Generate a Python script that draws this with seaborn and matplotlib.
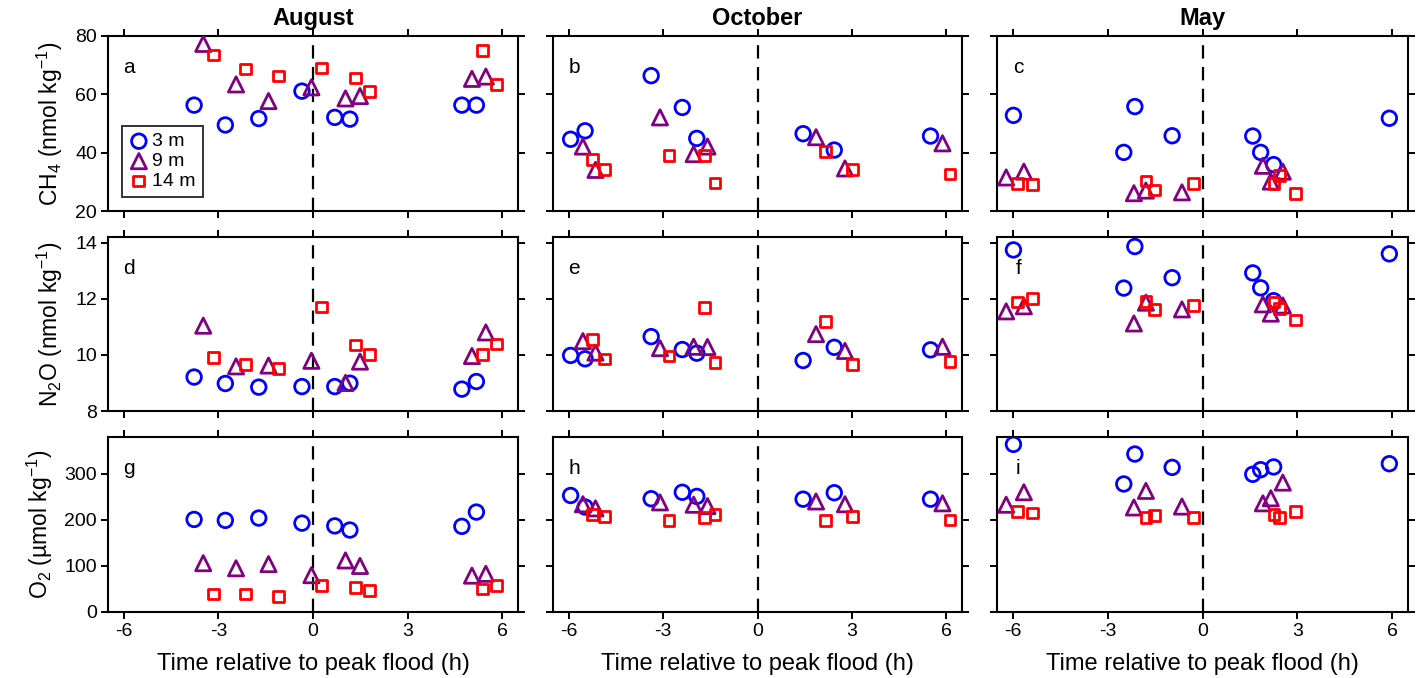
import numpy as np
import pandas as pd
import matplotlib
matplotlib.use("Agg")
import matplotlib.pyplot as plt
import seaborn as sns

# ============================================================
# DATA
# ============================================================

months = ["August", "October", "May"]
depths = ["3 m", "9 m", "14 m"]

# sampling times relative to peak flood (h), per month and depth
time_aug_3 = [-3.77, -2.78, -1.72, -0.35, 0.69, 1.17, 4.72, 5.18]
time_aug_9 = [-3.48, -2.44, -1.41, -0.05, 1.03, 1.49, 5.04, 5.48]
time_aug_14 = [-3.16, -2.13, -1.10, 0.28, 1.35, 1.80, 5.37, 5.82]

time_oct_3 = [-5.94, -5.48, -3.38, -2.39, -1.93, 1.45, 2.44, 5.50]
time_oct_9 = [-5.55, -5.15, -3.10, -2.03, -1.59, 1.86, 2.78, 5.88]
time_oct_14 = [-5.24, -4.87, -2.81, -1.69, -1.35, 2.15, 3.03, 6.12]

time_may_3 = [-5.98, -2.49, -2.14, -0.96, 1.59, 1.84, 2.25, 5.91]
time_may_9 = [-6.21, -5.65, -2.17, -1.79, -0.65, 1.91, 2.16, 2.54]
time_may_14 = [-5.85, -5.38, -1.79, -1.53, -0.28, 2.26, 2.43, 2.93]

# CH4 (nmol kg-1)
ch4_aug_3 = [56.3, 49.5, 51.7, 61.1, 52.1, 51.5, 56.3, 56.3]
ch4_aug_9 = [77.3, 63.4, 57.7, 62.4, 58.6, 59.4, 65.3, 66.1]
ch4_aug_14 = [73.5, 68.7, 66.3, 69.0, 65.6, 61.1, 75.0, 63.4]
ch4_oct_3 = [44.6, 47.5, 66.4, 55.5, 44.9, 46.5, 40.9, 45.7]
ch4_oct_9 = [42.1, 34.1, 52.1, 39.5, 42.1, 45.3, 34.6, 43.2]
ch4_oct_14 = [37.7, 34.1, 39.1, 39.1, 29.6, 40.5, 34.3, 32.7]
ch4_may_3 = [52.8, 40.1, 55.8, 45.8, 45.7, 40.1, 35.9, 51.8]
ch4_may_9 = [31.5, 33.5, 26.1, 27.0, 26.4, 35.5, 30.1, 33.5]
ch4_may_14 = [29.5, 29.1, 30.3, 27.2, 29.4, 29.3, 32.1, 26.1]

# N2O (nmol kg-1)
n2o_aug_3 = [9.21, 8.98, 8.85, 8.87, 8.87, 8.99, 8.78, 9.05]
n2o_aug_9 = [11.04, 9.59, 9.62, 9.79, 9.00, 9.76, 9.96, 10.80]
n2o_aug_14 = [9.91, 9.65, 9.52, 11.71, 10.35, 10.00, 10.02, 10.39]
n2o_oct_3 = [9.98, 9.86, 10.65, 10.19, 10.06, 9.80, 10.27, 10.18]
n2o_oct_9 = [10.49, 10.08, 10.24, 10.29, 10.28, 10.74, 10.14, 10.29]
n2o_oct_14 = [10.55, 9.85, 9.96, 11.68, 9.72, 11.19, 9.67, 9.76]
n2o_may_3 = [13.74, 12.38, 13.86, 12.75, 12.92, 12.39, 11.93, 13.60]
n2o_may_9 = [11.55, 11.73, 11.12, 11.86, 11.62, 11.80, 11.47, 11.76]
n2o_may_14 = [11.88, 12.02, 11.91, 11.62, 11.76, 11.88, 11.65, 11.24]

# O2 (umol kg-1)
o2_aug_3 = [201, 199, 204, 193, 187, 178, 186, 217]
o2_aug_9 = [106, 95, 104, 80, 112, 100, 79, 83]
o2_aug_14 = [39, 39, 33, 57, 54, 46, 50, 58]
o2_oct_3 = [253, 228, 246, 260, 251, 245, 259, 245]
o2_oct_9 = [234, 225, 238, 233, 230, 240, 234, 236]
o2_oct_14 = [212, 207, 198, 205, 212, 198, 207, 200]
o2_may_3 = [364, 278, 343, 314, 299, 309, 315, 322]
o2_may_9 = [233, 260, 227, 263, 229, 236, 247, 281]
o2_may_14 = [218, 215, 206, 209, 205, 212, 206, 219]

# ============================================================
# LONG TABLE
# ============================================================

times = {
    "August": [time_aug_3, time_aug_9, time_aug_14],
    "October": [time_oct_3, time_oct_9, time_oct_14],
    "May": [time_may_3, time_may_9, time_may_14],
}
values = {
    "CH4": {"August": [ch4_aug_3, ch4_aug_9, ch4_aug_14],
            "October": [ch4_oct_3, ch4_oct_9, ch4_oct_14],
            "May": [ch4_may_3, ch4_may_9, ch4_may_14]},
    "N2O": {"August": [n2o_aug_3, n2o_aug_9, n2o_aug_14],
            "October": [n2o_oct_3, n2o_oct_9, n2o_oct_14],
            "May": [n2o_may_3, n2o_may_9, n2o_may_14]},
    "O2": {"August": [o2_aug_3, o2_aug_9, o2_aug_14],
           "October": [o2_oct_3, o2_oct_9, o2_oct_14],
           "May": [o2_may_3, o2_may_9, o2_may_14]},
}

rows = []
for gas, by_month in values.items():
    for month in months:
        for depth, t, v in zip(depths, times[month], by_month[month]):
            for ti, vi in zip(t, v):
                rows.append({"gas": gas, "month": month, "depth": depth,
                             "time": ti, "value": vi})
df = pd.DataFrame(rows)

# ============================================================
# PLOT
# ============================================================

sns.set_style("ticks")
plt.rcParams["font.family"] = ["Liberation Sans", "DejaVu Sans"]
plt.rcParams["axes.unicode_minus"] = False
plt.rcParams["mathtext.fontset"] = "custom"
plt.rcParams["mathtext.rm"] = "Liberation Sans"
plt.rcParams["mathtext.it"] = "Liberation Sans"
for key in ["text.color", "axes.labelcolor", "xtick.color", "ytick.color"]:
    plt.rcParams[key] = "black"

colors = {"3 m": "#0000ff", "9 m": "#800080", "14 m": "#ff0000"}
markers = {"3 m": "o", "9 m": "^", "14 m": "s"}
sizes = {"3 m": 110, "9 m": 120, "14 m": 60}

gases = ["CH4", "N2O", "O2"]
ylabels = ["CH$_4$ (nmol kg$^{-1}$)", "N$_2$O (nmol kg$^{-1}$)",
           "O$_2$ (µmol kg$^{-1}$)"]
ylims = [(20, 80), (8, 14.2), (0, 380)]
yticks = [[20, 40, 60, 80], [8, 10, 12, 14], [0, 100, 200, 300]]
letters = [["a", "b", "c"], ["d", "e", "f"], ["g", "h", "i"]]

fig = plt.figure(figsize=(14.16, 6.78), dpi=100)

lefts = [108 / 1416, 553 / 1416, 997 / 1416]
widths = [410 / 1416, 409 / 1416, 411 / 1416]
bottoms = [1 - 211 / 678, 1 - 411 / 678, 1 - 612 / 678]
heights = [175 / 678, 174 / 678, 175 / 678]

for r, gas in enumerate(gases):
    for c, month in enumerate(months):
        ax = fig.add_axes([lefts[c], bottoms[r], widths[c], heights[r]])
        sub = df[(df["gas"] == gas) & (df["month"] == month)]

        ax.axvline(0, color="black", lw=1.6, ls=(0, (6, 3.8)), zorder=1)

        for depth in depths:
            d = sub[sub["depth"] == depth]
            sns.scatterplot(data=d, x="time", y="value", ax=ax,
                            marker=markers[depth], s=sizes[depth],
                            color=colors[depth], facecolor="none",
                            edgecolor=colors[depth], linewidth=2,
                            label=depth, legend=False, zorder=3)

        ax.set_xlim(-6.5, 6.5)
        ax.set_xticks([-6, -3, 0, 3, 6])
        ax.set_ylim(*ylims[r])
        ax.set_yticks(yticks[r])
        ax.tick_params(axis="both", which="both", direction="out",
                       top=True, right=True, length=5, width=1.4,
                       labelsize=14, pad=3, colors="black")
        for sp in ax.spines.values():
            sp.set_visible(True)
            sp.set_linewidth(1.5)
            sp.set_color("black")

        ax.text(0.052, 0.82, letters[r][c], transform=ax.transAxes,
                ha="center", va="center", fontsize=15)

        if c == 0:
            ax.set_ylabel(ylabels[r], fontsize=16.5, labelpad=7)
        else:
            ax.set_ylabel("")
            ax.set_yticklabels([])
        if r == 2:
            ax.set_xlabel("Time relative to peak flood (h)", fontsize=17,
                          labelpad=9)
        else:
            ax.set_xlabel("")
            ax.set_xticklabels([])
        if r == 0:
            ax.set_title(month, fontsize=17, fontweight="bold", pad=8)

        if r == 0 and c == 0:
            leg = ax.legend(loc="lower left", bbox_to_anchor=(0.035, 0.08),
                            fontsize=14, frameon=True, fancybox=False,
                            handletextpad=0.2, borderpad=0.35,
                            labelspacing=0.12, handlelength=1.0,
                            borderaxespad=0)
            leg.get_frame().set_edgecolor("black")
            leg.get_frame().set_linewidth(1.4)

fig.savefig("out.png", dpi=100)
